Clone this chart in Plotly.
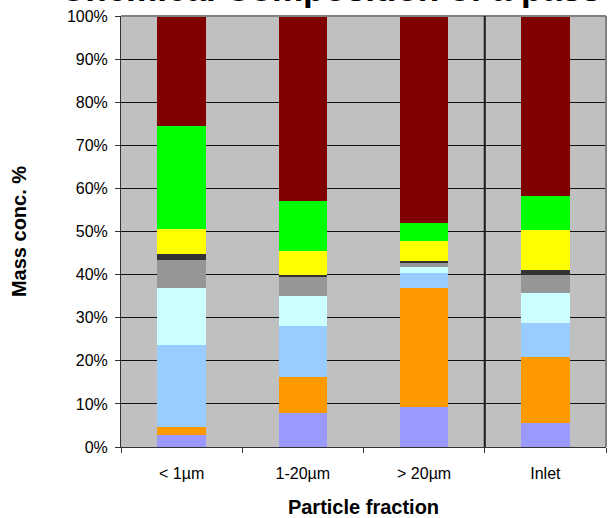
import plotly.graph_objects as go

# Particle size fractions on the category axis
categories = ["< 1µm", "1-20µm", "> 20µm", "Inlet"]

# Mass share (%) of each component, stacked bottom to top
comp_1 = [2.85, 7.95, 9.3, 5.6]
comp_2 = [1.85, 8.35, 27.6, 15.2]
comp_3 = [19.0, 11.8, 3.5, 8.0]
comp_4 = [13.2, 7.0, 1.4, 7.0]
comp_5 = [6.5, 4.5, 1.0, 4.0]
comp_6 = [1.3, 0.3, 0.3, 1.3]
comp_7 = [5.9, 5.6, 4.7, 9.3]
comp_8 = [23.9, 11.6, 4.2, 7.9]
comp_9 = [25.5, 42.9, 48.0, 41.7]

y_ticks = [0, 10, 20, 30, 40, 50, 60, 70, 80, 90, 100]

series = [
    ("comp_1", comp_1, "#9999FF"),
    ("comp_2", comp_2, "#FF9900"),
    ("comp_3", comp_3, "#99CCFF"),
    ("comp_4", comp_4, "#CCFFFF"),
    ("comp_5", comp_5, "#969696"),
    ("comp_6", comp_6, "#333333"),
    ("comp_7", comp_7, "#FFFF00"),
    ("comp_8", comp_8, "#00FF00"),
    ("comp_9", comp_9, "#800000"),
]

FONT = "Liberation Sans, Arial, sans-serif"

fig = go.Figure()
for name, vals, color in series:
    fig.add_trace(go.Bar(
        x=categories, y=vals, name=name,
        marker=dict(color=color, line=dict(width=0)),
        showlegend=False,
    ))

fig.update_layout(
    width=608, height=518,
    margin=dict(l=121, r=2, t=16, b=71),
    barmode="stack",
    barnorm="percent",
    bargap=0.6,
    paper_bgcolor="white",
    plot_bgcolor="#C0C0C0",
    font=dict(family=FONT, size=16, color="black"),
)

fig.update_xaxes(
    type="category",
    tickson="boundaries",
    ticks="outside", ticklen=5, tickcolor="#333333",
    ticklabelstandoff=12,
    showgrid=False,
    showline=True, linecolor="#333333", linewidth=1,
    tickfont=dict(size=16),
    title=dict(text="<b>Particle fraction</b>", font=dict(size=20), standoff=18),
)

fig.update_yaxes(
    range=[0, 100],
    tickvals=y_ticks,
    ticktext=[f"{v}%" for v in y_ticks],
    ticks="outside", ticklen=5, tickcolor="#333333",
    ticklabelstandoff=4,
    showgrid=True, gridcolor="#111111", gridwidth=1,
    showline=True, linecolor="#333333", linewidth=1,
    zeroline=False,
    tickfont=dict(size=16),
    title=dict(text="<b>Mass conc. %</b>", font=dict(size=20), standoff=34),
)

# Grey frame on top and right of the plot area
fig.add_shape(type="line", xref="paper", yref="paper", x0=0, x1=1, y0=1, y1=1,
              line=dict(color="#808080", width=2))
fig.add_shape(type="line", xref="paper", yref="paper", x0=1, x1=1, y0=0, y1=1,
              line=dict(color="#808080", width=2))

# Divider between the size fractions and the inlet
fig.add_shape(type="line", xref="x", yref="paper", x0=2.5, x1=2.5, y0=0, y1=1,
              line=dict(color="#1a1a1a", width=2))

# Chart title (runs off the top edge)
fig.add_annotation(
    text="<b>Chemical Composition of a pass</b>",
    xref="paper", yref="paper", x=0.431, y=1.0172,
    xanchor="center", yanchor="bottom", showarrow=False, borderpad=0,
    font=dict(size=35, family=FONT, color="black"),
)

fig.write_html("out.html")
